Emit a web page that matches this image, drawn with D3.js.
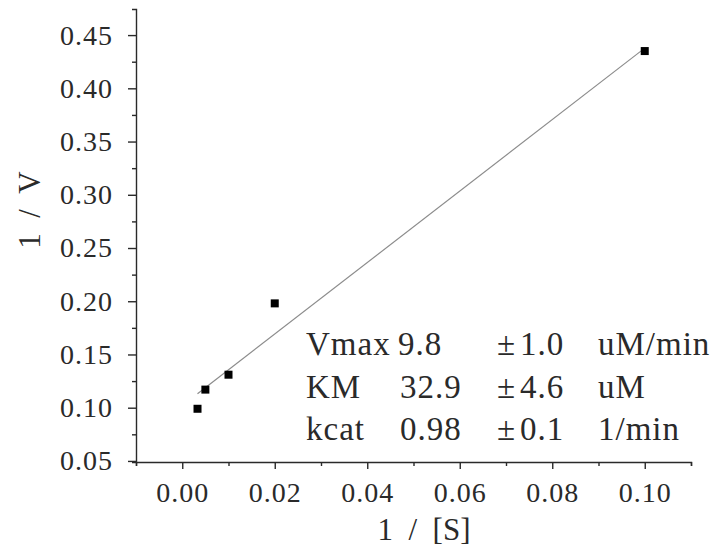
<!DOCTYPE html>
<html lang="en">
<head>
    <meta charset="UTF-8">
    <title>Lineweaver-Burk plot</title>
    <script src="https://d3js.org/d3.v7.min.js"></script>
    <style>
        body { margin: 0; background: #fff; }
    </style>
</head>
<body>
<script>
    // data
    var invS = [0.0033, 0.005, 0.01, 0.02, 0.1];
    var invV = [0.099, 0.117, 0.131, 0.198, 0.435];

    // fit results
    var fitLabels = ["Vmax", "KM", "kcat"];
    var fitValues = ["9.8", "32.9", "0.98"];
    var fitErrors = ["1.0", "4.6", "0.1"];
    var fitUnits = ["uM/min", "uM", "1/min"];
    var vmax = 9.8, km = 32.9;

    var xTicks = [0, 0.02, 0.04, 0.06, 0.08, 0.10];
    var xMinor = [-0.01, 0.01, 0.03, 0.05, 0.07, 0.09, 0.11];
    var yTicks = [0.05, 0.10, 0.15, 0.20, 0.25, 0.30, 0.35, 0.40, 0.45];
    var yMinor = [0.075, 0.125, 0.175, 0.225, 0.275, 0.325, 0.375, 0.425];

    var width = 724, height = 556;
    var serif = "'Liberation Serif', 'DejaVu Serif', serif";
    var ink = "#2a2a2a";

    var svg = d3.select("body").append("svg")
        .attr("width", width)
        .attr("height", height);

    var x = d3.scaleLinear().domain([-0.01, 0.11]).range([136, 691]);
    var y = d3.scaleLinear().domain([0.049, 0.4745]).range([462, 9]);

    // x axis
    svg.append("g")
        .attr("transform", "translate(0," + y.range()[0] + ")")
        .call(d3.axisBottom(x).tickValues(xTicks).tickSize(7).tickSizeOuter(4)
            .tickPadding(13).tickFormat(d3.format(".2f")));
    svg.append("g")
        .attr("transform", "translate(0," + y.range()[0] + ")")
        .call(d3.axisBottom(x).tickValues(xMinor).tickSize(4).tickSizeOuter(0).tickFormat(""))
        .select(".domain").remove();

    // y axis
    svg.append("g")
        .attr("transform", "translate(" + x.range()[0] + ",0)")
        .call(d3.axisLeft(y).tickValues(yTicks).tickSize(8).tickSizeOuter(4)
            .tickPadding(15).tickFormat(d3.format(".2f")));
    svg.append("g")
        .attr("transform", "translate(" + x.range()[0] + ",0)")
        .call(d3.axisLeft(y).tickValues(yMinor).tickSize(4).tickSizeOuter(0).tickFormat(""))
        .select(".domain").remove();

    svg.selectAll(".tick text")
        .style("font-family", serif)
        .style("font-size", "28px")
        .style("letter-spacing", "1px")
        .attr("fill", ink);
    svg.selectAll(".domain, .tick line")
        .attr("stroke", ink)
        .attr("stroke-width", 1.4);

    // axis titles
    svg.append("text")
        .attr("x", 424)
        .attr("y", 540)
        .attr("text-anchor", "middle")
        .style("font-family", serif)
        .style("font-size", "31px")
        .attr("fill", ink)
        .text("1\u2002/\u2002[S]");

    svg.append("text")
        .attr("transform", "translate(40,210) rotate(-90)")
        .attr("text-anchor", "middle")
        .style("font-family", serif)
        .style("font-size", "31px")
        .attr("fill", ink)
        .text("1\u2002/\u2002V");

    // fitted line: 1/V = 1/Vmax + (KM/Vmax) * 1/[S]
    var xExt = d3.extent(invS);
    var fitLine = xExt.map(function (s) { return [s, 1 / vmax + km / vmax * s]; });
    svg.append("path")
        .datum(fitLine)
        .attr("fill", "none")
        .attr("stroke", "#8c8c8c")
        .attr("stroke-width", 1.2)
        .attr("d", d3.line().x(d => x(d[0])).y(d => y(d[1])));

    // points
    var pts = invS.map((s, i) => ({ s: s, v: invV[i] }));
    svg.selectAll("rect.pt")
        .data(pts)
        .enter().append("rect")
        .attr("class", "pt")
        .attr("x", d => x(d.s) - 4)
        .attr("y", d => y(d.v) - 4)
        .attr("width", 8)
        .attr("height", 8)
        .attr("fill", "#000");

    // fit results table
    var rowY = [355, 397.5, 440];
    var table = svg.append("g")
        .style("font-family", serif)
        .style("font-size", "33px")
        .style("letter-spacing", "1px")
        .attr("fill", ink);
    fitLabels.forEach(function (lab, i) {
        var row = table.append("g").attr("transform", "translate(0," + rowY[i] + ")");
        row.append("text").attr("x", 306).text(lab);
        row.append("text").attr("x", i === 0 ? 398 : 400).text(fitValues[i]);
        row.append("text").attr("x", 497).text("\u00b1");
        row.append("text").attr("x", 520).text(fitErrors[i]);
        row.append("text").attr("x", 598).text(fitUnits[i]);
    });
</script>
</body>
</html>
